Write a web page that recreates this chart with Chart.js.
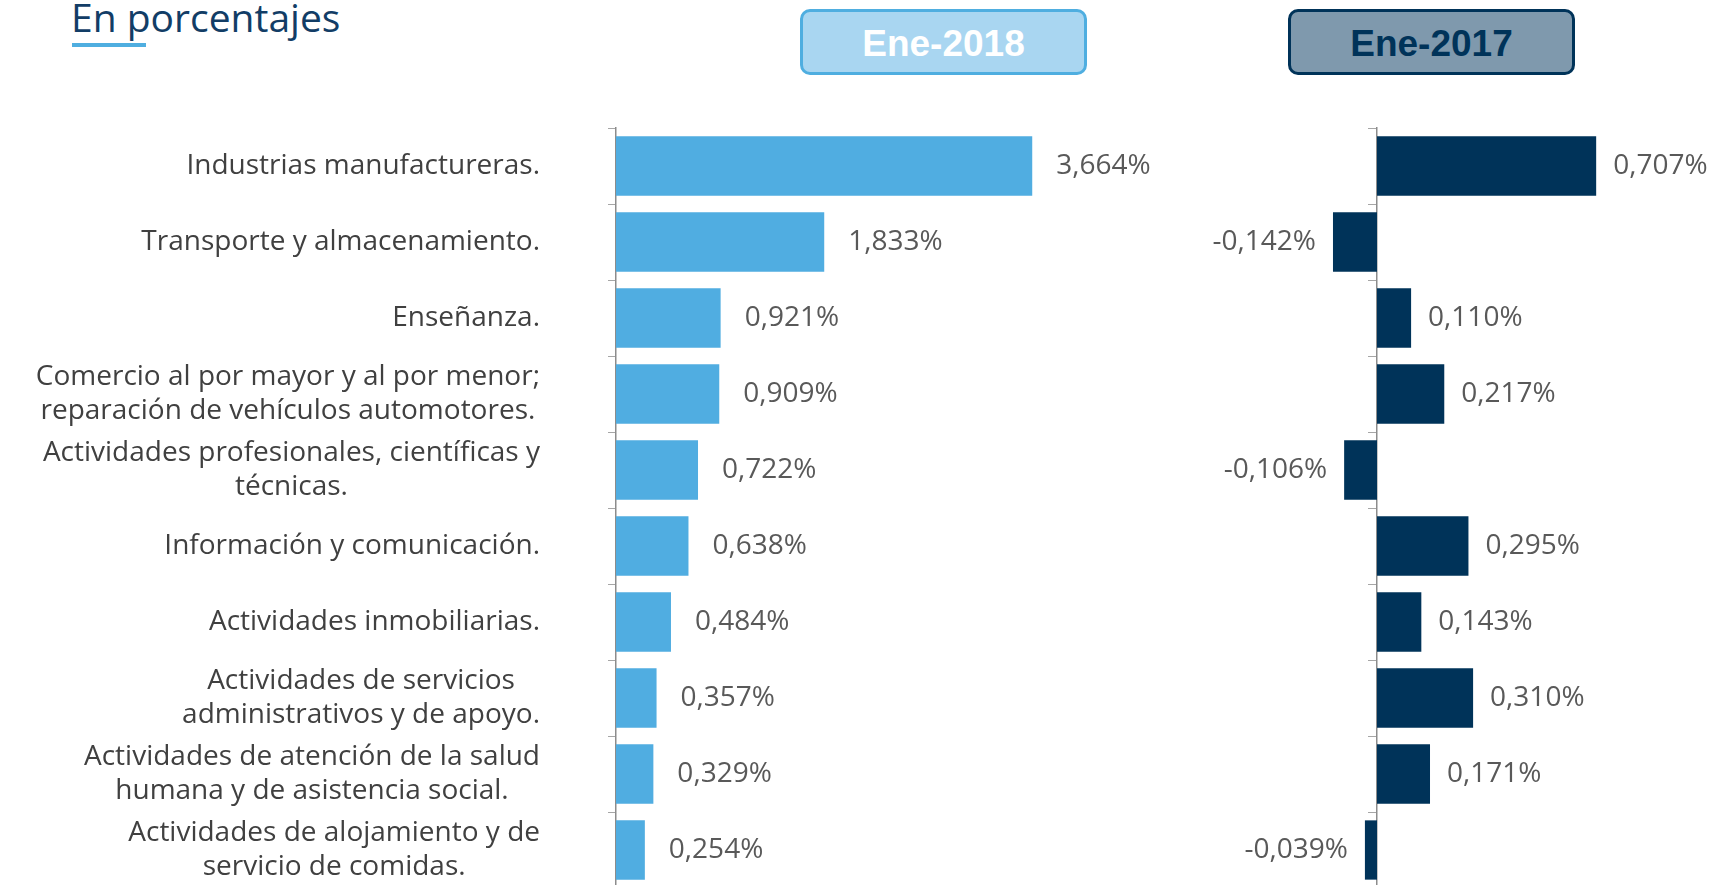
<!DOCTYPE html>
<html lang="es">
<head>
    <meta charset="UTF-8">
    <title>Variación por actividad - Ene-2018 vs Ene-2017</title>
    <script src="https://cdn.jsdelivr.net/npm/chart.js"></script>
    <style>
        body {
            margin: 0;
            width: 1725px;
            height: 885px;
            overflow: hidden;
            background: #fff;
            font-family: 'Open Sans', sans-serif;
            position: relative;
        }
        .titulo {
            position: absolute;
            left: 71px;
            top: -10px;
            font-size: 39px;
            color: #123d66;
            font-family: 'Open Sans', sans-serif;
        }
        .subrayado {
            position: absolute;
            left: 72px;
            top: 43px;
            width: 74px;
            height: 4px;
            background: #4faee0;
        }
        .badge {
            position: absolute;
            top: 9px;
            width: 281px;
            height: 60px;
            border-radius: 10px;
            border: 3px solid;
            font-family: 'Liberation Sans', sans-serif;
            font-weight: bold;
            font-size: 37px;
            line-height: 64px;
            text-align: center;
        }
        .b2018 { left: 800px; background: #a9d6f1; border-color: #4faee0; color: #fff; }
        .b2017 { left: 1288px; background: #7f99ad; border-color: #003359; color: #003359; }
        .wrap { position: absolute; top: 120px; height: 770px; }
        #izq { left: 0; width: 1200px; }
        #der { left: 1200px; width: 525px; }
    </style>
</head>
<body>

<div class="titulo">En porcentajes</div>
<div class="subrayado"></div>
<div class="badge b2018">Ene-2018</div>
<div class="badge b2017">Ene-2017</div>

<div class="wrap" id="izq"><canvas id="chartIzq"></canvas></div>
<div class="wrap" id="der"><canvas id="chartDer"></canvas></div>

<script>
    // categorías (ramas de actividad)
    const categorias = [
        ['Industrias manufactureras.'],
        ['Transporte y almacenamiento.'],
        ['Enseñanza.'],
        ['Comercio al por mayor y al por menor;', 'reparación de vehículos automotores.'],
        ['Actividades profesionales, científicas y', 'técnicas.'],
        ['Información y comunicación.'],
        ['Actividades inmobiliarias.'],
        ['Actividades de servicios', 'administrativos y de apoyo.'],
        ['Actividades de atención de la salud', 'humana y de asistencia social.'],
        ['Actividades de alojamiento y de', 'servicio de comidas.']
    ];
    const valores2018 = [3.664, 1.833, 0.921, 0.909, 0.722, 0.638, 0.484, 0.357, 0.329, 0.254];
    const valores2017 = [0.707, -0.142, 0.110, 0.217, -0.106, 0.295, 0.143, 0.310, 0.171, -0.039];

    const azulClaro = '#50ade1';
    const azulOscuro = '#003359';
    const fuente = "'Open Sans', sans-serif";

    function fmt(v) {
        return v.toFixed(3).replace('.', ',') + '%';
    }

    // etiquetas de valor al lado de cada barra
    const etiquetasValor = {
        id: 'etiquetasValor',
        afterDatasetsDraw(chart) {
            const ctx = chart.ctx;
            const meta = chart.getDatasetMeta(0);
            const datos = chart.data.datasets[0].data;
            ctx.save();
            ctx.font = '28px ' + fuente;
            ctx.fillStyle = '#595959';
            ctx.textBaseline = 'middle';
            meta.data.forEach((bar, i) => {
                const v = datos[i];
                if (v >= 0) {
                    ctx.textAlign = 'left';
                    ctx.fillText(fmt(v), bar.x + chart.options.gapEtiqueta, bar.y);
                } else {
                    ctx.textAlign = 'right';
                    ctx.fillText(fmt(v), bar.x - chart.options.gapEtiqueta, bar.y);
                }
            });
            ctx.restore();
        }
    };

    // nombres de categoría: bloque alineado a la derecha, líneas centradas
    const etiquetasCategoria = {
        id: 'etiquetasCategoria',
        afterDraw(chart) {
            const ctx = chart.ctx;
            const y = chart.scales.y;
            const bordeDer = 540;
            const alto = 34;
            ctx.save();
            ctx.font = '28px ' + fuente;
            ctx.fillStyle = '#404040';
            ctx.textBaseline = 'middle';
            ctx.textAlign = 'center';
            categorias.forEach((lineas, i) => {
                const cy = y.getPixelForValue(i);
                const ancho = Math.max(...lineas.map(l => ctx.measureText(l).width));
                const cx = bordeDer - ancho / 2;
                const y0 = cy - (lineas.length - 1) * alto / 2;
                lineas.forEach((l, k) => ctx.fillText(l, cx, y0 + k * alto));
            });
            ctx.restore();
        }
    };

    const ejeY = {
        ticks: { display: false },
        grid: {
            display: true,
            drawOnChartArea: false,
            drawTicks: true,
            tickLength: 8,
            color: '#a6a6a6',
            offset: true
        },
        border: { display: true, color: '#8c8c8c', width: 1.5 }
    };

    new Chart(document.getElementById('chartIzq'), {
        type: 'bar',
        data: {
            labels: categorias.map(c => c.join(' ')),
            datasets: [{
                data: valores2018,
                backgroundColor: azulClaro,
                categoryPercentage: 1,
                barPercentage: 0.78
            }]
        },
        options: {
            indexAxis: 'y',
            responsive: true,
            maintainAspectRatio: false,
            animation: false,
            gapEtiqueta: 24,
            layout: { padding: { top: 8, bottom: 2, left: 0, right: 16 } },
            plugins: { legend: { display: false }, tooltip: { enabled: false } },
            scales: {
                x: { display: false, min: 0, max: 5 },
                y: Object.assign({}, ejeY, {
                    afterFit(scale) { scale.width = 616; }
                })
            }
        },
        plugins: [etiquetasValor, etiquetasCategoria]
    });

    new Chart(document.getElementById('chartDer'), {
        type: 'bar',
        data: {
            labels: categorias.map(c => c.join(' ')),
            datasets: [{
                data: valores2017,
                backgroundColor: azulOscuro,
                categoryPercentage: 1,
                barPercentage: 0.78
            }]
        },
        options: {
            indexAxis: 'y',
            responsive: true,
            maintainAspectRatio: false,
            animation: false,
            gapEtiqueta: 17,
            layout: { padding: { top: 8, bottom: 2, left: 22, right: 38 } },
            plugins: { legend: { display: false }, tooltip: { enabled: false } },
            scales: {
                x: { display: false, min: -0.5, max: 1.0 },
                y: Object.assign({}, ejeY, { position: { x: 0 } })
            }
        },
        plugins: [etiquetasValor]
    });
</script>

</body>
</html>
